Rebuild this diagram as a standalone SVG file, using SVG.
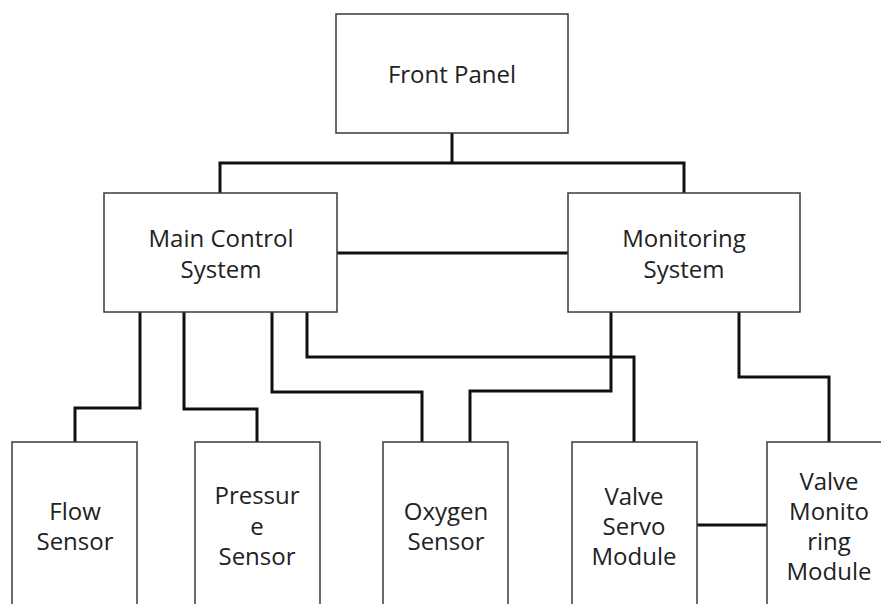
<svg xmlns="http://www.w3.org/2000/svg" width="881" height="604" viewBox="0 0 881 604">
<style>
.box{fill:#fff;stroke:#3a3a3a;stroke-width:1.5}
.lbl{font-family:"Open Sans","Noto Sans","DejaVu Sans",sans-serif;font-size:24px;fill:#222;text-anchor:middle}
.wire{fill:none;stroke:#111;stroke-width:3;stroke-linejoin:miter;stroke-linecap:square}
</style>
<rect width="881" height="604" fill="#fff"/>
<g id="connectors">
<path class="wire" d="M452,133 V163 M220,193 V163 H684 V193"/>
<path class="wire" d="M337,253 H568"/>
<path class="wire" d="M140,312 V408 H75 V442"/>
<path class="wire" d="M184,312 V409 H257 V442"/>
<path class="wire" d="M272,312 V392 H422 V442"/>
<path class="wire" d="M307,312 V357 H634 V442"/>
<path class="wire" d="M611,312 V391 H470 V442"/>
<path class="wire" d="M739,312 V377 H829 V442"/>
<path class="wire" d="M697,525 H767"/>
</g>
<g id="front-panel">
<rect class="box" x="336" y="14" width="232" height="119"/>
<text class="lbl" x="452" y="83">Front Panel</text>
</g>
<g id="main-control-system">
<rect class="box" x="104" y="193" width="233" height="119"/>
<text class="lbl" x="221" y="247">Main Control</text>
<text class="lbl" x="221" y="278">System</text>
</g>
<g id="monitoring-system">
<rect class="box" x="568" y="193" width="232" height="119"/>
<text class="lbl" x="684" y="247">Monitoring</text>
<text class="lbl" x="684" y="278">System</text>
</g>
<g id="flow-sensor">
<rect class="box" x="12" y="442" width="125" height="180"/>
<text class="lbl" x="75" y="520">Flow</text>
<text class="lbl" x="75" y="550">Sensor</text>
</g>
<g id="pressure-sensor">
<rect class="box" x="195" y="442" width="125" height="180"/>
<text class="lbl" x="257" y="504">Pressur</text>
<text class="lbl" x="257" y="535">e</text>
<text class="lbl" x="257" y="565">Sensor</text>
</g>
<g id="oxygen-sensor">
<rect class="box" x="383" y="442" width="125" height="180"/>
<text class="lbl" x="446" y="520">Oxygen</text>
<text class="lbl" x="446" y="550">Sensor</text>
</g>
<g id="valve-servo-module">
<rect class="box" x="572" y="442" width="125" height="180"/>
<text class="lbl" x="634" y="505">Valve</text>
<text class="lbl" x="634" y="535">Servo</text>
<text class="lbl" x="634" y="565">Module</text>
</g>
<g id="valve-monitoring-module">
<rect class="box" x="767" y="442" width="125" height="180"/>
<text class="lbl" x="829" y="490">Valve</text>
<text class="lbl" x="829" y="520">Monito</text>
<text class="lbl" x="829" y="550">ring</text>
<text class="lbl" x="829" y="580">Module</text>
</g>
</svg>
